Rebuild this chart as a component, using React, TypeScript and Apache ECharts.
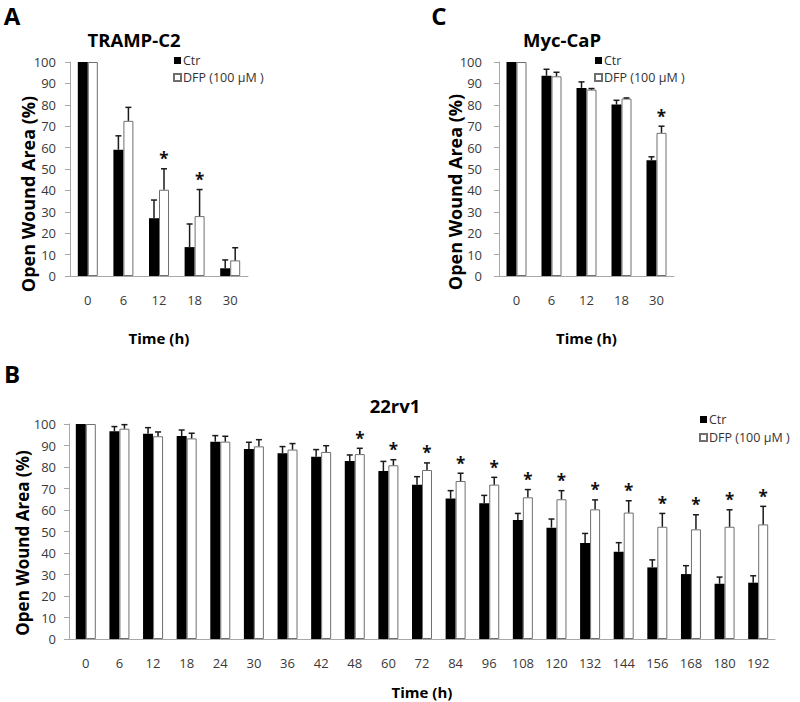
import React, { useEffect, useRef } from "react";
import * as echarts from "echarts";

// ---- Panel A: TRAMP-C2 ----
const A_CATS = ["0", "6", "12", "18", "30"];
const A_CTR = [100, 59, 27, 13.5, 3.6];
const A_CTR_ERR = [0, 6.5, 8.5, 10.8, 3.9];
const A_DFP = [100, 72.5, 40.3, 28, 7.3];
const A_DFP_ERR = [0, 6.3, 9.8, 12.4, 5.9];
const A_SIG = [0, 0, 1, 1, 0];

// ---- Panel C: Myc-CaP ----
const C_CATS = ["0", "6", "12", "18", "30"];
const C_CTR = [100, 93.6, 87.9, 80.1, 54.1];
const C_CTR_ERR = [0, 3.0, 2.8, 2.0, 1.6];
const C_DFP = [100, 93.3, 87.1, 82.9, 66.9];
const C_DFP_ERR = [0, 1.9, 0.5, 0.3, 3.1];
const C_SIG = [0, 0, 0, 0, 1];

// ---- Panel B: 22rv1 ----
const B_CATS = ["0", "6", "12", "18", "24", "30", "36", "42", "48", "60", "72", "84", "96", "108", "120", "132", "144", "156", "168", "180", "192"];
const B_CTR = [100, 96.6, 95.5, 94.4, 91.8, 88.4, 86.4, 84.8, 82.8, 78.1, 71.8, 65.3, 63.1, 55.3, 51.8, 44.7, 40.6, 33.3, 30.2, 25.7, 26.2];
const B_CTR_ERR = [0, 2.2, 2.8, 2.8, 2.8, 3.1, 3.1, 3.3, 2.8, 4.5, 3.7, 3.7, 3.7, 3.1, 4.0, 4.4, 4.2, 3.5, 3.9, 3.1, 3.2];
const B_DFP = [100, 97.8, 94.3, 93.3, 91.8, 89.6, 88.1, 87.0, 86.0, 80.8, 78.6, 73.5, 71.8, 65.9, 65.0, 60.3, 58.8, 52.2, 51.0, 52.2, 53.3];
const B_DFP_ERR = [0, 1.9, 2.0, 2.4, 2.5, 3.1, 2.8, 2.9, 2.7, 2.6, 3.3, 3.6, 3.4, 3.6, 4.0, 4.4, 5.5, 6.2, 6.8, 7.9, 8.4];
const B_SIG = [0, 0, 0, 0, 0, 0, 0, 0, 1, 1, 1, 1, 1, 1, 1, 1, 1, 1, 1, 1, 1];

const SERIES_NAMES = ["Ctr", "DFP (100 μM )"];
const FONT = "'Open Sans', sans-serif";
const BAR_W = 10;

function errSeries(idx: number, vals: number[], errs: number[], sig: number[], offset: number) {
  return {
    type: "custom",
    name: "err" + idx + "_" + offset,
    xAxisIndex: idx,
    yAxisIndex: idx,
    z: 5,
    clip: false,
    encode: { x: 0, y: 1 },
    data: vals.map((v, i) => [i, v, errs[i], sig[i]]),
    renderItem: (params: any, api: any) => {
      const i = api.value(0);
      const v = api.value(1);
      const e = api.value(2);
      const s = api.value(3);
      const base = api.coord([i, v]);
      const top = api.coord([i, v + e]);
      const x = base[0] + offset;
      const children: any[] = [];
      if (e > 0) {
        children.push({
          type: "line",
          shape: { x1: x, y1: base[1], x2: x, y2: top[1] },
          style: { stroke: "#1a1a1a", lineWidth: 1.5 },
        });
        children.push({
          type: "line",
          shape: { x1: x - 3, y1: top[1], x2: x + 3, y2: top[1] },
          style: { stroke: "#1a1a1a", lineWidth: 1.5 },
        });
      }
      if (s) {
        children.push({
          type: "text",
          style: {
            text: "*",
            x: x,
            y: top[1] - 10,
            align: "center",
            verticalAlign: "middle",
            font: "bold 17px " + FONT,
            fill: "#111",
          },
        });
      }
      return { type: "group", children };
    },
  };
}

function panelSeries(idx: number, ctr: number[], ctrErr: number[], dfp: number[], dfpErr: number[], sig: number[]) {
  const zeros = ctr.map(() => 0);
  return [
    {
      type: "bar",
      name: SERIES_NAMES[0],
      xAxisIndex: idx,
      yAxisIndex: idx,
      data: ctr,
      barWidth: BAR_W,
      barGap: "0%",
      itemStyle: { color: "#000000" },
    },
    {
      type: "bar",
      name: SERIES_NAMES[1],
      xAxisIndex: idx,
      yAxisIndex: idx,
      data: dfp,
      barWidth: BAR_W,
      barGap: "0%",
      itemStyle: { color: "#ffffff", borderColor: "#6f6f6f", borderWidth: 1 },
    },
    errSeries(idx, ctr, ctrErr, zeros, -BAR_W / 2),
    errSeries(idx, dfp, dfpErr, sig, BAR_W / 2),
  ];
}

function xAxisDef(idx: number, cats: string[], nameGap: number) {
  return {
    type: "category",
    gridIndex: idx,
    data: cats,
    axisLine: { show: true, lineStyle: { color: "#a8a8a8", width: 1 } },
    axisTick: { show: false },
    axisLabel: { margin: 17, fontSize: 13, color: "#3a3a3a", fontFamily: FONT, interval: 0 },
    name: "Time (h)",
    nameLocation: "middle",
    nameGap: nameGap,
    nameTextStyle: { fontSize: 15, fontWeight: "bold", color: "#000", fontFamily: FONT },
  };
}

function yAxisDef(idx: number, margin: number) {
  return {
    type: "value",
    gridIndex: idx,
    min: 0,
    max: 100,
    interval: 10,
    splitLine: { show: false },
    axisLine: { show: true, lineStyle: { color: "#a8a8a8", width: 1 } },
    axisTick: { show: true, length: 5, inside: false, lineStyle: { color: "#a8a8a8" } },
    axisLabel: { margin: margin, fontSize: 13, color: "#3a3a3a", fontFamily: FONT },
  };
}

function legendDef(left: number, top: number, gap: number) {
  return {
    left,
    top,
    orient: "vertical",
    itemWidth: 7,
    itemHeight: 7,
    itemGap: gap,
    padding: 0,
    selectedMode: false,
    textStyle: { fontSize: 12.5, color: "#333", fontFamily: FONT, padding: [0, 0, 0, -3] },
    data: SERIES_NAMES.map((n) => ({ name: n, icon: "rect" })),
  };
}

function txt(text: string, x: number, y: number, size: number, rotate = 0) {
  return {
    type: "text",
    x,
    y,
    rotation: rotate,
    style: {
      text,
      x: 0,
      y: 0,
      align: "center",
      verticalAlign: "middle",
      font: "bold " + size + "px " + FONT,
      fill: "#000",
    },
  };
}

export default function App() {
  const ref = useRef<HTMLDivElement>(null);
  useEffect(() => {
    if (!ref.current) return;
    const chart = echarts.init(ref.current, undefined, { renderer: "svg" });
    chart.setOption({
      animation: false,
      backgroundColor: "#ffffff",
      grid: [
        { left: 70, top: 62, width: 178, height: 214 },
        { left: 499, top: 62, width: 175, height: 214 },
        { left: 69, top: 424, width: 706, height: 215 },
      ],
      xAxis: [xAxisDef(0, A_CATS, 54), xAxisDef(1, C_CATS, 54), xAxisDef(2, B_CATS, 45)],
      yAxis: [yAxisDef(0, 14), yAxisDef(1, 17), yAxisDef(2, 13)],
      legend: [legendDef(173, 54, 4), legendDef(594, 54, 4), legendDef(699, 413, 5)],
      series: [
        ...panelSeries(0, A_CTR, A_CTR_ERR, A_DFP, A_DFP_ERR, A_SIG),
        ...panelSeries(1, C_CTR, C_CTR_ERR, C_DFP, C_DFP_ERR, C_SIG),
        ...panelSeries(2, B_CTR, B_CTR_ERR, B_DFP, B_DFP_ERR, B_SIG),
      ],
      graphic: [
        txt("A", 12, 15, 24),
        txt("C", 439, 15, 24),
        txt("B", 12, 373, 24),
        txt("TRAMP-C2", 134, 39, 18.5),
        txt("Myc-CaP", 562, 39, 18.5),
        txt("22rv1", 395, 405, 18.5),
        txt("Open Wound Area (%)", 28, 194, 18, Math.PI / 2),
        txt("Open Wound Area (%)", 455, 192, 18, Math.PI / 2),
        txt("Open Wound Area (%)", 22, 543, 17, Math.PI / 2),
      ],
    });
    return () => chart.dispose();
  }, []);
  return (
    <div
      ref={ref}
      style={{ position: "absolute", left: 0, top: 0, width: 800, height: 702, background: "#fff" }}
    />
  );
}
